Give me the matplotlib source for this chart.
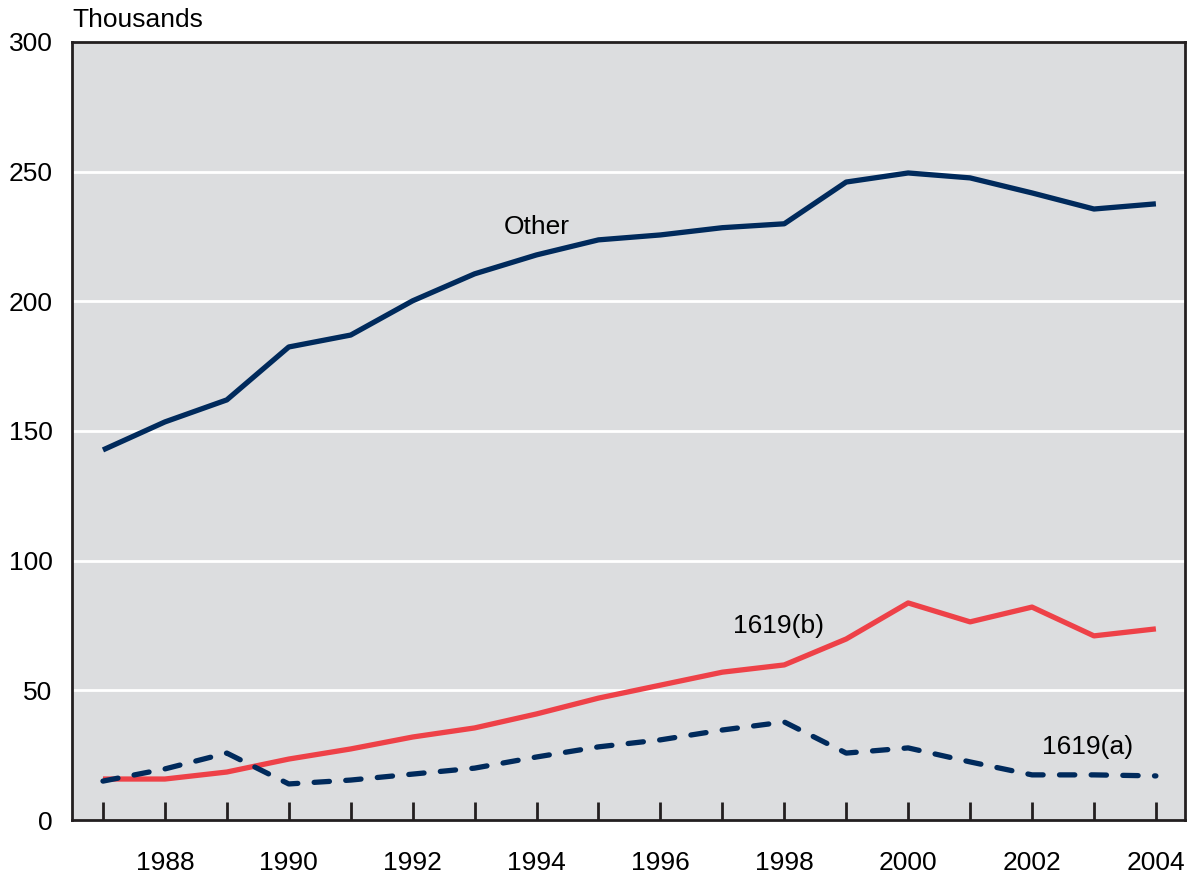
import matplotlib.pyplot as plt
import numpy as np

plt.rcParams['font.family'] = ['Liberation Sans', 'DejaVu Sans']

years = np.arange(1987, 2005)
other = [142.7, 153.5, 162, 182.4, 187, 200.2, 210.6, 217.9, 223.7, 225.6,
         228.4, 229.9, 246, 249.5, 247.6, 241.8, 235.6, 237.6]
b1619 = [15.8, 15.8, 18.5, 23.5, 27.4, 32, 35.5, 40.9, 47, 52,
         57, 59.8, 69.8, 83.7, 76.4, 82.1, 71, 73.7]
a1619 = [15, 19.7, 25.8, 13.9, 15.4, 17.7, 20, 24.3, 28.2, 30.9,
         34.7, 37.8, 25.8, 27.8, 22.4, 17.4, 17.4, 17]
navy = '#002a5c'
red = '#ee4148'
fs = 19

fig = plt.figure(figsize=(11.9, 8.76), dpi=100)
ax = fig.add_axes([72/1190, 1-820/876, (1185-72)/1190, (820-42)/876])
ax.set_facecolor('#dcdddf')

for y in [50, 100, 150, 200, 250]:
    ax.axhline(y, color='white', lw=2, zorder=1)

ax.plot(years, other, color=navy, lw=3.8, solid_capstyle='butt', zorder=3)
ax.plot(years, b1619, color=red, lw=3.8, solid_capstyle='butt', zorder=3)
ax.plot(years, a1619, color=navy, lw=3.8, dashes=(2.9, 3.1),
        dash_capstyle='round', zorder=3)

ax.text(1994.0, 228.5, 'Other', fontsize=fs, ha='center', va='center')
ax.text(1997.9, 75, '1619(b)', fontsize=fs, ha='center', va='center')
ax.text(2002.9, 28, '1619(a)', fontsize=fs, ha='center', va='center')

ax.set_xlim(1986.5, 2004.47)
ax.set_ylim(0, 300)
ax.set_yticks([0, 50, 100, 150, 200, 250, 300])
ax.set_xticks(years)
ax.set_xticklabels([str(y) if y % 2 == 0 else '' for y in years])
ax.tick_params(axis='x', direction='in', length=13, width=2, pad=22,
               labelsize=fs, color='#231f20')
ax.tick_params(axis='y', length=0, pad=14, labelsize=fs)
for s in ax.spines.values():
    s.set_linewidth(2)
    s.set_color('#231f20')

fig.text(72/1190, 1-20/876, 'Thousands', fontsize=fs, ha='left', va='center')

fig.savefig('out.png', dpi=100)
